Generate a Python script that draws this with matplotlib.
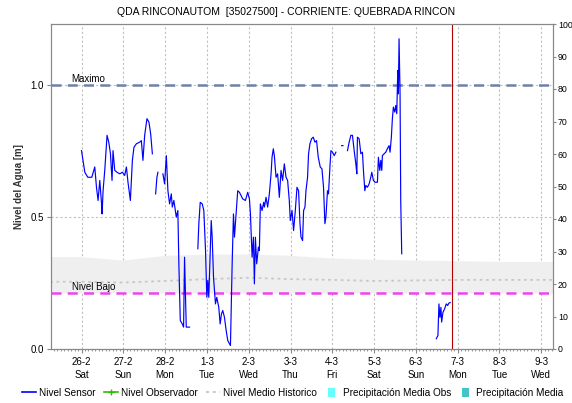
import numpy as np
import matplotlib
matplotlib.use("Agg")
import matplotlib.pyplot as plt
from matplotlib.lines import Line2D
from matplotlib.patches import Patch
from matplotlib.ticker import MultipleLocator

plt.rcParams['font.family'] = ['Liberation Sans', 'DejaVu Sans']

TITLE = "QDA RINCONAUTOM  [35027500] - CORRIENTE: QUEBRADA RINCON"

# Day labels (day 0 = 26-2)
day_labels = ["26-2\nSat", "27-2\nSun", "28-2\nMon", "1-3\nTue", "2-3\nWed", "3-3\nThu",
              "4-3\nFri", "5-3\nSat", "6-3\nSun", "7-3\nMon", "8-3\nTue", "9-3\nWed"]

# Sensor level: time in days since 26-2 00:00, level in metres (NaN = gap)
sensor_t = [
    0.000, 0.079, 0.150, 0.246, 0.317, 0.358, 0.396, 0.437, 0.477, 0.492, 0.516, 0.556,
    0.611, 0.652, 0.692, 0.730, 0.754, 0.795, 0.850, 0.914, 0.979, 1.033, 1.074, 1.112,
    1.169, 1.217, 1.255, 1.313, 1.391, 1.432, 1.470, 1.511, 1.566, 1.613, 1.654, 1.695,
    1.734,
    1.773, 1.804, 1.828,
    1.888,
    1.947, 1.988, 2.029, 2.067, 2.107, 2.148, 2.172, 2.210, 2.267, 2.305, 2.329, 2.363,
    2.411, 2.442, 2.465, 2.506, 2.585,
    2.680,
    2.783, 2.807, 2.840, 2.888, 2.926, 2.967, 2.998, 3.021, 3.045, 3.079, 3.103, 3.126,
    3.158, 3.205, 3.236, 3.284, 3.317, 3.348, 3.379, 3.420, 3.461, 3.499, 3.539, 3.563,
    3.604, 3.635, 3.659, 3.699, 3.737, 3.778, 3.857, 3.921, 3.976, 4.017, 4.041, 4.081,
    4.112, 4.136, 4.160, 4.191, 4.232, 4.255, 4.279, 4.320, 4.358, 4.375, 4.415, 4.453,
    4.494, 4.535, 4.558, 4.589, 4.613, 4.654, 4.692, 4.733, 4.773, 4.811, 4.852, 4.893,
    4.931, 4.971, 4.995, 5.036, 5.074, 5.115, 5.155, 5.193, 5.227, 5.251, 5.289, 5.313,
    5.346, 5.370, 5.408, 5.432, 5.465, 5.504, 5.544, 5.585, 5.623, 5.664, 5.711, 5.752,
    5.790, 5.823, 5.847, 5.885, 5.909, 5.943, 5.967, 6.005, 6.045, 6.086,
    6.150,
    6.224, 6.255,
    6.300,
    6.363, 6.403, 6.444, 6.482, 6.523, 6.563, 6.587, 6.601, 6.642, 6.683, 6.721, 6.745,
    6.778, 6.802, 6.840, 6.881, 6.921, 6.945, 6.983, 7.024, 7.079, 7.103, 7.136, 7.160,
    7.184, 7.198, 7.239, 7.279, 7.317, 7.358, 7.382, 7.413, 7.437, 7.461, 7.494, 7.518,
    7.542, 7.566, 7.580, 7.597, 7.621, 7.637, 7.661,
    8.000,
    8.487, 8.527, 8.551, 8.575, 8.599, 8.616, 8.647, 8.687, 8.726, 8.759, 8.790, 8.821,
]
sensor_h = [
    0.752, 0.670, 0.651, 0.651, 0.690, 0.613, 0.563, 0.639, 0.556, 0.512, 0.600, 0.677,
    0.810, 0.784, 0.741, 0.639, 0.752, 0.677, 0.670, 0.664, 0.670, 0.658, 0.690, 0.632,
    0.563, 0.715, 0.765, 0.778, 0.784, 0.790, 0.715, 0.810, 0.873, 0.860, 0.816, 0.740,
    np.nan,
    0.588, 0.651, 0.670,
    np.nan,
    0.664, 0.626, 0.733, 0.600, 0.550, 0.588, 0.538, 0.563, 0.500, 0.525, 0.323, 0.108,
    0.095, 0.083, 0.348, 0.083, 0.083,
    np.nan,
    0.380, 0.475, 0.556, 0.550, 0.525, 0.373, 0.196, 0.260, 0.196, 0.361, 0.487, 0.424,
    0.272, 0.171, 0.196, 0.158, 0.095, 0.133, 0.146, 0.120, 0.070, 0.032, 0.020, 0.013,
    0.323, 0.512, 0.424, 0.512, 0.600, 0.594, 0.569, 0.563, 0.594, 0.569, 0.512, 0.348,
    0.424, 0.247, 0.424, 0.323, 0.386, 0.373, 0.550, 0.525, 0.556, 0.538, 0.575, 0.538,
    0.588, 0.664, 0.727, 0.759, 0.733, 0.651, 0.664, 0.575, 0.677, 0.639, 0.702, 0.651,
    0.639, 0.563, 0.487, 0.525, 0.449, 0.525, 0.613, 0.600, 0.475, 0.424, 0.411, 0.525,
    0.538, 0.600, 0.651, 0.740, 0.778, 0.797, 0.803, 0.784, 0.790, 0.727, 0.690, 0.683,
    0.613, 0.475, 0.500, 0.600, 0.588, 0.690, 0.752, 0.746, 0.733, 0.746,
    np.nan,
    0.771, 0.771,
    np.nan,
    0.752, 0.784, 0.810, 0.810, 0.752, 0.702, 0.664, 0.803, 0.797, 0.740, 0.746, 0.677,
    0.600, 0.620, 0.613, 0.626, 0.651, 0.670, 0.639, 0.632, 0.632, 0.727, 0.677, 0.715,
    0.677, 0.733, 0.740, 0.746, 0.759, 0.771, 0.746, 0.803, 0.873, 0.917, 0.898, 0.923,
    0.892, 1.056, 0.967, 1.176, 0.967, 0.563, 0.361,
    np.nan,
    0.039, 0.051, 0.171, 0.120, 0.158, 0.102, 0.139, 0.152, 0.171, 0.165, 0.174, 0.176,
]

# Historical statistics by day
hist_t = [-0.75, 0, 1, 2, 3, 4, 5, 6, 7, 8, 9, 10, 11, 11.35]
hist_upper = [0.350, 0.350, 0.337, 0.355, 0.360, 0.360, 0.355, 0.345, 0.340, 0.337, 0.335, 0.332, 0.332, 0.332]
hist_mean = [0.255, 0.255, 0.252, 0.258, 0.265, 0.270, 0.265, 0.262, 0.258, 0.260, 0.262, 0.262, 0.262, 0.262]
hist_lower = [0.212] * len(hist_t)

nivel_maximo = 1.0
nivel_bajo = 0.213
now_t = 8.87

fig = plt.figure(figsize=(5.72, 4.03), dpi=100)
ax = fig.add_axes([51 / 572, 1 - 349 / 403, 502 / 572, 325 / 403])

ax.fill_between(hist_t, hist_lower, hist_upper, color="#efefef", lw=0, zorder=1)
ax.plot(hist_t, hist_mean, color="#c8c8c8", ls=(0, (1.5, 2)), lw=1.3, zorder=2)

ax.axhline(nivel_maximo, color="#7080a8", ls=(0, (4, 2.5)), lw=1.8, zorder=3)
ax.axhline(nivel_bajo, color="#ee44ee", ls=(0, (4, 2.5)), lw=1.8, zorder=3)
ax.text(-0.24, nivel_maximo + 0.004, "Maximo", fontsize=7, va="bottom", ha="left", zorder=4)
ax.text(-0.23, nivel_bajo + 0.004, "Nivel Bajo", fontsize=7, va="bottom", ha="left", zorder=4)

ax.plot(sensor_t, sensor_h, color="#0000ff", lw=0.85, zorder=5)
ax.axvline(now_t, color="#b00000", lw=0.8, zorder=6)

ax.set_xlim(-0.73, 11.28)
ax.set_ylim(0, 1.232)
ax.set_xticks(range(len(day_labels)))
ax.set_xticklabels(day_labels, fontsize=7, linespacing=1.3)
ax.xaxis.set_minor_locator(MultipleLocator(1 / 12))
ax.tick_params(axis="x", which="major", length=3, color="#888888", pad=3)
ax.tick_params(axis="x", which="minor", length=1.5, color="#888888")
ax.set_yticks([0.0, 0.5, 1.0])
ax.set_yticklabels(["0.0", "0.5", "1.0"], fontsize=7)
ax.tick_params(axis="y", length=3, color="#888888", pad=2)
ax.grid(True, which="major", color="#c0c0c0", ls=(0, (2, 2)), lw=0.8)
ax.set_axisbelow(True)
ax.set_ylabel("Nivel del Agua [m]", fontsize=7, fontweight="bold", color="#333333", labelpad=5)
for s in ax.spines.values():
    s.set_color("#888888")
    s.set_linewidth(0.8)

ax2 = ax.twinx()
ax2.set_ylim(0, 100)
ax2.set_yticks(range(0, 101, 10))
ax2.set_yticklabels([str(v) for v in range(0, 101, 10)], fontsize=6.3)
ax2.tick_params(axis="y", length=2.5, color="#888888", pad=1)
for s in ax2.spines.values():
    s.set_color("#888888")
    s.set_linewidth(0.8)

fig.text(0.5, 1 - 12 / 403, TITLE, ha="center", va="center", fontsize=7.5)

handles = [
    Line2D([], [], color="#0000ff", lw=1.2),
    Line2D([], [], color="#33bb00", lw=1.2, marker="+", ms=4),
    Line2D([], [], color="#c8c8c8", lw=1.4, ls=(0, (1.5, 2))),
    Patch(facecolor="#66ffff", edgecolor="none"),
    Patch(facecolor="#44c4c4", edgecolor="none"),
]
labels = ["Nivel Sensor", "Nivel Observador", "Nivel Medio Historico",
          "Precipitación Media Obs", "Precipitación Media"]
leg = fig.legend(handles, labels, loc="center", bbox_to_anchor=(0.512, 1 - 393 / 403), ncol=5,
                 fontsize=7.2, frameon=False, handlelength=1.4, handletextpad=0.3,
                 columnspacing=0.85, handleheight=0.9, borderpad=0.1)
for p in leg.get_patches():
    p.set_width(5)
    p.set_x(p.get_x() + 2)

fig.savefig("out.png", dpi=100)
